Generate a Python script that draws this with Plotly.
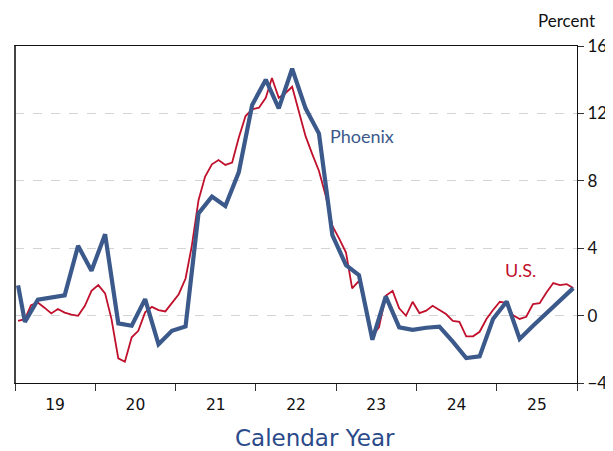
import plotly.graph_objects as go

# --- Data (12-month percent change) ---
us_months = [f"{y}-{m:02d}-15" for y in range(2019, 2026) for m in range(1, 13)]
us_values = [
    -0.31, -0.21, 0.62, 0.78, 0.47, 0.13, 0.39, 0.18, 0.06, -0.01, 0.58, 1.47,   # 2019
    1.81, 1.32, -0.21, -2.54, -2.74, -1.29, -0.90, 0.19, 0.52, 0.33, 0.25, 0.78,  # 2020
    1.27, 2.20, 4.10, 6.85, 8.25, 8.98, 9.23, 8.94, 9.08, 10.56, 11.84, 12.24,    # 2021
    12.34, 12.93, 14.10, 12.93, 13.20, 13.58, 12.14, 10.65, 9.57, 8.58, 7.10, 5.32,  # 2022
    4.57, 3.74, 1.61, 2.06, 0.50, -1.20, -0.70, 1.17, 1.47, 0.43, -0.01, 0.82,    # 2023
    0.15, 0.29, 0.58, 0.33, 0.09, -0.31, -0.37, -1.23, -1.23, -0.96, -0.20, 0.33, # 2024
    0.82, 0.74, 0.03, -0.20, -0.07, 0.68, 0.74, 1.37, 1.93, 1.81, 1.87, 1.63,     # 2025
]

phx_months = ["2019-01-15"] + [f"{y}-{m:02d}-15" for y in range(2019, 2026) for m in (2, 4, 6, 8, 10, 12)]
phx_values = [
    1.80,
    -0.37, 0.94, 1.08, 1.20, 4.14, 2.66,     # 2019
    4.83, -0.46, -0.60, 0.98, -1.70, -0.90,  # 2020
    -0.64, 6.07, 7.06, 6.50, 8.50, 12.50,    # 2021
    14.00, 12.30, 14.65, 12.30, 10.80, 4.77, # 2022
    3.00, 2.40, -1.43, 1.14, -0.70, -0.84,   # 2023
    -0.72, -0.66, -1.55, -2.52, -2.42, -0.20, # 2024
    0.84, -1.39, -0.60, 0.15, 0.90, 1.63,    # 2025
]

US_COLOR = "#c0102c"
PHX_COLOR = "#3b5a8b"

fig = go.Figure()
fig.add_trace(go.Scatter(x=us_months, y=us_values, mode="lines",
                         line=dict(color=US_COLOR, width=1.8), name="U.S."))
fig.add_trace(go.Scatter(x=phx_months, y=phx_values, mode="lines",
                         line=dict(color=PHX_COLOR, width=4.2), name="Phoenix"))

# the page body adds an 8px offset, so the figure is sized to fit inside the window
fig.update_layout(
    width=605, height=443,
    margin=dict(l=7, r=36, t=38, b=68),
    paper_bgcolor="white", plot_bgcolor="white",
    showlegend=False,
    font=dict(family="Lato", color="#111111"),
)

fig.update_xaxes(
    type="date",
    automargin=False,
    range=["2019-01-01", "2026-01-01"],
    dtick="M12", tick0="2019-01-01",
    tickformat="%y", ticklabelmode="period",
    ticks="outside", ticklen=7, tickcolor="#333333", tickwidth=1,
    showline=True, linecolor="#111111", linewidth=1, mirror=True,
    showgrid=False,
    tickfont=dict(family="DejaVu Sans", size=15.5, color="#111111"),
)

fig.update_yaxes(
    side="right",
    automargin=False,
    range=[-4, 16], dtick=4, tick0=-4,
    ticks="outside", ticklen=6, tickcolor="#333333",
    showline=True, linecolor="#111111", linewidth=1, mirror=True,
    showgrid=True, gridcolor="#d4d4d4", griddash="dash", gridwidth=1,
    zeroline=False,
    tickfont=dict(family="Lato", size=17, color="#111111"),
)

# thicker dark left frame line
fig.add_shape(type="line", xref="paper", yref="paper", x0=0, x1=0, y0=0, y1=1,
              line=dict(color="#444444", width=2))

fig.add_annotation(text="Calendar Year", xref="paper", yref="paper", x=0.534, y=-0.163,
                   xanchor="center", yanchor="middle", showarrow=False,
                   font=dict(family="DejaVu Sans", size=23, color="#2b4a8a"))
fig.add_annotation(text="Phoenix", xref="paper", yref="y", x=0.557, y=10.65,
                   xanchor="left", yanchor="middle", showarrow=False,
                   font=dict(family="Lato", size=18, color=PHX_COLOR))
fig.add_annotation(text="U.S.", xref="paper", yref="y", x=0.868, y=2.7,
                   xanchor="left", yanchor="middle", showarrow=False,
                   font=dict(family="Lato", size=18, color=US_COLOR))
fig.add_annotation(text="Percent", xref="paper", yref="paper", x=1.0, y=1.0,
                   xanchor="left", yanchor="bottom", xshift=-40, yshift=14,
                   showarrow=False, borderpad=0,
                   font=dict(family="Lato", size=17, color="#111111"))

fig.write_html("out.html")
